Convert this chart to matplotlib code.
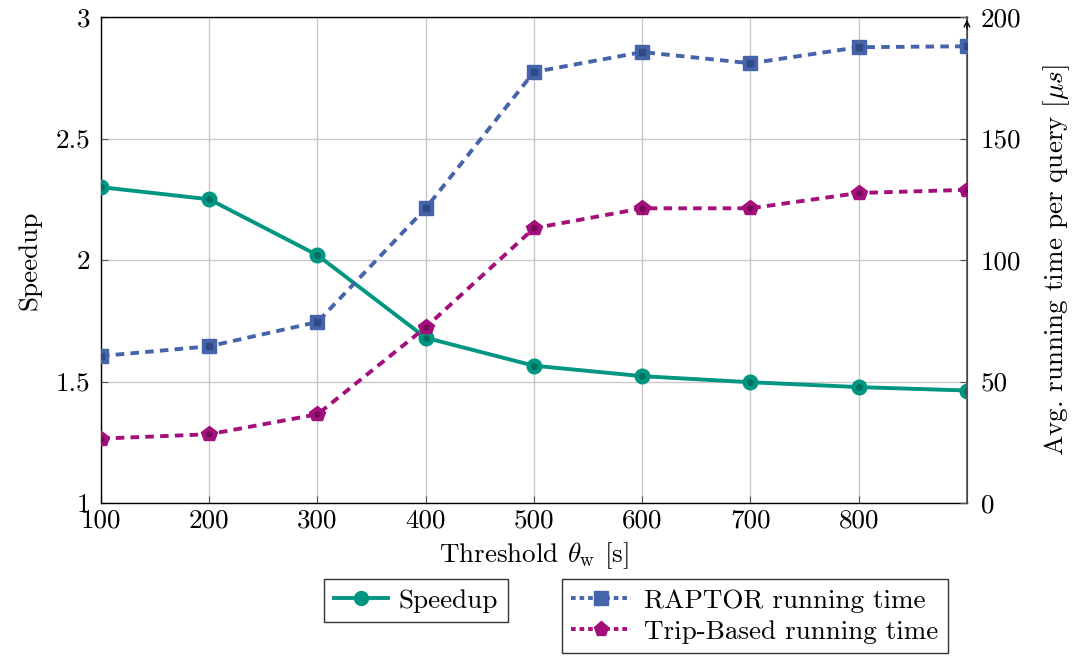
import matplotlib
matplotlib.use("Agg")
import matplotlib.pyplot as plt
from matplotlib.lines import Line2D

plt.rcParams['font.family'] = 'serif'
plt.rcParams['font.serif'] = ['cmr10', 'DejaVu Serif']
plt.rcParams['mathtext.fontset'] = 'cm'
plt.rcParams['axes.formatter.use_mathtext'] = True

thresholds = [100, 200, 300, 400, 500, 600, 700, 800, 900]
speedup = [2.30, 2.25, 2.02, 1.68, 1.565, 1.522, 1.497, 1.477, 1.463]
raptor_time = [60.5, 64.5, 74.5, 121.3, 177.4, 185.6, 181.0, 187.6, 188.0]
tripbased_time = [26.5, 28.3, 36.5, 72.3, 113.1, 121.3, 121.3, 127.6, 128.9]
xtick_labels = ['100', '200', '300', '400', '500', '600', '700', '800']
left_ticks = [1, 1.5, 2, 2.5, 3]
left_tick_labels = ['1', '1.5', '2', '2.5', '3']
right_ticks = [0, 50, 100, 150, 200]

c_speed = '#009682'
c_raptor = '#4664AA'
c_trip = '#A3107C'

fig = plt.figure(figsize=(10.78, 6.6), dpi=100)
ax = fig.add_axes([0.0937, 0.2379, 0.8033, 0.7362])
ax2 = ax.twinx()

fs = 19.5

ax.plot(thresholds, speedup, color=c_speed, lw=2.8, marker='o', ms=10.5,
        markerfacecolor=c_speed, markeredgecolor=c_speed, zorder=5)
ax.plot(thresholds, speedup, ls='none', marker='o', ms=4, color='#00705f', zorder=6)

ax2.plot(thresholds, raptor_time, color=c_raptor, lw=2.8, ls=(0, (2.2, 1.6)),
         marker='s', ms=10.5, markerfacecolor=c_raptor, markeredgecolor=c_raptor, zorder=5)
ax2.plot(thresholds, raptor_time, ls='none', marker='s', ms=4, color='#2f4a86', zorder=6)
ax2.plot(thresholds, tripbased_time, color=c_trip, lw=2.8, ls=(0, (2.2, 1.6)),
         marker='p', ms=11.5, markerfacecolor=c_trip, markeredgecolor=c_trip, zorder=5)
ax2.plot(thresholds, tripbased_time, ls='none', marker='o', ms=3.5, color='#750a58', zorder=6)

ax.set_xlim(100, 900)
ax.set_ylim(1, 3)
ax2.set_ylim(0, 200)

ax.set_xticks(thresholds[:8])
ax.set_xticklabels(xtick_labels, fontsize=fs)
ax.set_yticks(left_ticks)
ax.set_yticklabels(left_tick_labels, fontsize=fs)
ax2.set_yticks(right_ticks)
ax2.set_yticklabels([str(t) for t in right_ticks], fontsize=fs)

ax.grid(True, color='#c8c8c8', lw=1.0)
ax.set_axisbelow(True)
ax.tick_params(direction='in', length=5, color='#555555', pad=4)
ax.tick_params(axis='y', pad=8)
ax2.tick_params(direction='in', length=5, color='#555555', pad=10)

for s in ['left', 'bottom', 'top']:
    ax.spines[s].set_color('black')
    ax.spines[s].set_linewidth(1.0)
ax2.spines['right'].set_color('#555555')
ax2.spines['right'].set_linewidth(1.2)
for s in ['left', 'bottom', 'top']:
    ax2.spines[s].set_visible(False)

ax2.annotate('', xy=(1.0, 1.0), xycoords='axes fraction', xytext=(1.0, 0.97),
             arrowprops=dict(arrowstyle='->', color='black', lw=1.0, mutation_scale=10))

ax.set_ylabel('Speedup', fontsize=fs, labelpad=10)
ax2.set_ylabel(r'Avg. running time per query [$\mu s$]', fontsize=fs, labelpad=14)
ax.set_xlabel(r'Threshold $\theta_\mathrm{w}$ [s]', fontsize=fs, labelpad=6)

h1 = [Line2D([], [], color=c_speed, lw=2.8, marker='o', ms=10)]
h2 = [Line2D([], [], color=c_raptor, lw=2.8, ls=(0, (1.2, 1.0)), marker='s', ms=10),
      Line2D([], [], color=c_trip, lw=2.8, ls=(0, (1.2, 1.0)), marker='p', ms=11)]

leg1 = fig.legend(h1, ['Speedup'], loc='upper left', bbox_to_anchor=(0.301, 0.122),
                  fontsize=fs, frameon=True, fancybox=False, edgecolor='black',
                  handlelength=2.0, borderpad=0.35, handletextpad=0.4, borderaxespad=0)
leg1.get_frame().set_linewidth(1.0)
leg2 = fig.legend(h2, ['RAPTOR running time', 'Trip-Based running time'], loc='upper left',
                  bbox_to_anchor=(0.521, 0.122), fontsize=fs, frameon=True, fancybox=False,
                  edgecolor='black', handlelength=2.2, borderpad=0.35, handletextpad=0.5,
                  labelspacing=0.25, borderaxespad=0)
leg2.get_frame().set_linewidth(1.0)

fig.savefig('out.png', dpi=100)
